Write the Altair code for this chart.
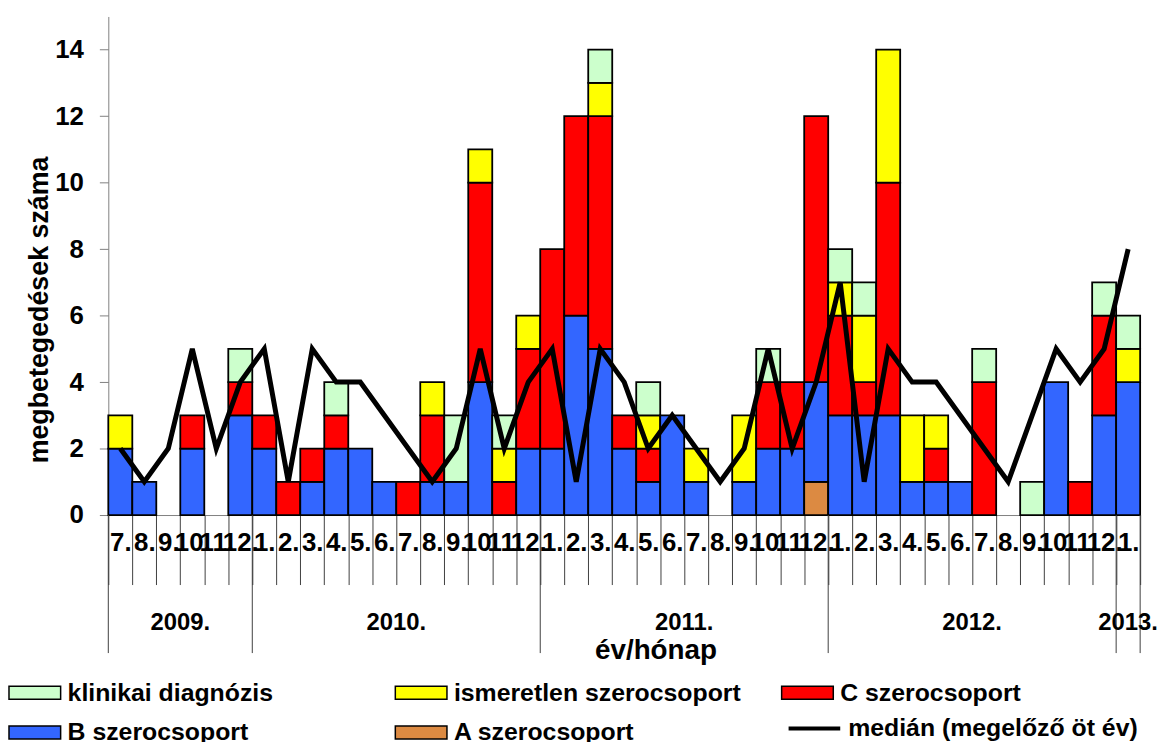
import altair as alt
import pandas as pd

FONT = "Liberation Sans"

years = [2009] * 6 + [2010] * 12 + [2011] * 12 + [2012] * 12 + [2013]
months = [7, 8, 9, 10, 11, 12] + list(range(1, 13)) * 3 + [1]
categories = [f"{y}/{m}." for y, m in zip(years, months)]

# counts per month (2009.7 ... 2013.1)
a_sz = [0, 0, 0, 0, 0, 0,
        0, 0, 0, 0, 0, 0, 0, 0, 0, 0, 0, 0,
        0, 0, 0, 0, 0, 0, 0, 0, 0, 0, 0, 1,
        0, 0, 0, 0, 0, 0, 0, 0, 0, 0, 0, 0,
        0]
b_sz = [2, 1, 0, 2, 0, 3,
        2, 0, 1, 2, 2, 1, 0, 1, 1, 4, 0, 2,
        2, 6, 5, 2, 1, 3, 1, 0, 1, 2, 2, 3,
        3, 3, 3, 1, 1, 1, 0, 0, 0, 4, 0, 3,
        4]
c_sz = [0, 0, 0, 1, 0, 1,
        1, 1, 1, 1, 0, 0, 1, 2, 0, 6, 1, 3,
        6, 6, 7, 1, 1, 0, 0, 0, 0, 2, 2, 8,
        3, 1, 7, 0, 1, 0, 4, 0, 0, 0, 1, 3,
        0]
ismeretlen = [1, 0, 0, 0, 0, 0,
              0, 0, 0, 0, 0, 0, 0, 1, 0, 1, 1, 1,
              0, 0, 1, 0, 1, 0, 1, 0, 2, 0, 0, 0,
              1, 2, 4, 2, 1, 0, 0, 0, 0, 0, 0, 0,
              1]
klinikai = [0, 0, 0, 0, 0, 1,
            0, 0, 0, 1, 0, 0, 0, 0, 2, 0, 1, 0,
            0, 0, 1, 0, 1, 0, 0, 0, 0, 1, 0, 0,
            1, 1, 0, 0, 0, 0, 1, 0, 1, 0, 0, 1,
            1]
median = [2, 1, 2, 5, 2, 4,
          5, 1, 5, 4, 4, 3, 2, 1, 2, 5, 2, 4,
          5, 1, 5, 4, 2, 3, 2, 1, 2, 5, 2, 4,
          7, 1, 5, 4, 4, 3, 2, 1, 3, 5, 4, 5,
          8]

stack_names = ["A szerocsoport", "B szerocsoport", "C szerocsoport",
               "ismeretlen szerocsoport", "klinikai diagnózis"]
stack_values = [a_sz, b_sz, c_sz, ismeretlen, klinikai]

# legend entries fill column by column: (kl, B) (ism, A) (C)
legend_order = ["klinikai diagnózis", "B szerocsoport", "ismeretlen szerocsoport",
                "A szerocsoport", "C szerocsoport"]
legend_colors = ["#CCFFCC", "#3366FF", "#FFFF00", "#DC8A42", "#FF0000"]
median_label = "medián (megelőző öt év)"

year_mid_cats = ["2009/10.", "2010/7.", "2011/7.", "2012/7."]
year_mid_labels = ["2009.", "2010.", "2011.", "2012."]
year_start_cats = ["2009/7.", "2010/1.", "2011/1.", "2012/1.", "2013/1."]

rows = []
for i, cat in enumerate(categories):
    for order, (name, vals) in enumerate(zip(stack_names, stack_values)):
        if vals[i] > 0:
            rows.append({"cat": cat, "series": name, "value": vals[i], "order": order})
bars_df = pd.DataFrame(rows)
med_df = pd.DataFrame({"cat": categories, "value": median, "label": median_label})

x_scale = alt.Scale(domain=categories, paddingInner=0, paddingOuter=0)
y_scale = alt.Scale(domain=[0, 15], nice=False)

x_axis = alt.Axis(
    title="év/hónap",
    labelExpr="isString(datum.value) && indexof(datum.value, '/') > 0 ? substring(datum.value, 5) : ''",
    labelAngle=0,
    labelFontSize=26, labelFont=FONT, labelFontWeight="bold", labelColor="black",
    labelOverlap=False, labelPadding=-55, labelLimit=0,
    tickBand="extent", tickSize=70, tickColor="#404040", tickWidth=1,
    domainColor="#808080", domainWidth=1,
    titleFont=FONT, titleFontSize=28, titleFontWeight="bold", titleColor="black",
    titleX=551, titleY=144, titleBaseline="alphabetic", titleAlign="center",
)
y_axis = alt.Axis(
    title="megbetegedések száma", values=list(range(0, 15, 2)), grid=False,
    labelFontSize=26, labelFont=FONT, labelFontWeight="bold", labelColor="black",
    labelPadding=16, tickSize=9, tickColor="#808080", domainColor="#808080",
    titleFont=FONT, titleFontSize=27, titleFontWeight="bold", titleColor="black",
    titleAngle=270, titleX=-61, titleY=295, titleBaseline="alphabetic", titleAlign="center",
)

X = alt.X("cat:N", scale=x_scale, sort=categories, axis=x_axis, title="év/hónap")

bars = alt.Chart(bars_df).mark_bar(stroke="black", strokeWidth=1.8).encode(
    x=X,
    y=alt.Y("value:Q", stack="zero", scale=y_scale, axis=y_axis, title="megbetegedések száma"),
    color=alt.Color(
        "series:N",
        scale=alt.Scale(domain=legend_order, range=legend_colors),
        legend=alt.Legend(
            orient="none", legendX=-101, legendY=654, columns=3, title=None,
            symbolType="M-1,-0.25H1V0.25H-1Z", symbolSize=2704,
            symbolStrokeColor="black", symbolStrokeWidth=1.5, symbolOpacity=1,
            labelFont=FONT, labelFontSize=25, labelFontWeight="bold", labelColor="black",
            labelOffset=6, columnPadding=38, rowPadding=0, gridAlign="all", padding=0,
            labelLimit=0,
        ),
    ),
    order=alt.Order("order:Q", sort="ascending"),
)

line = alt.Chart(med_df).mark_line(strokeWidth=5, strokeJoin="miter").encode(
    x=X,
    y=alt.Y("value:Q", scale=y_scale, axis=y_axis, title="megbetegedések száma"),
    stroke=alt.Stroke(
        "label:N",
        scale=alt.Scale(domain=[median_label], range=["black"]),
        legend=alt.Legend(
            orient="none", legendX=683, legendY=689, title=None,
            symbolType="stroke", symbolSize=2704, symbolStrokeWidth=4,
            labelFont=FONT, labelFontSize=25, labelFontWeight="bold", labelColor="black",
            labelOffset=6, padding=0, labelLimit=0,
        ),
    ),
)

rules = alt.Chart(pd.DataFrame({"cat": year_start_cats})).mark_rule(
    color="#404040", strokeWidth=1
).encode(
    x=alt.X("cat:N", scale=x_scale, sort=categories, axis=x_axis, title="év/hónap", bandPosition=0),
    y=alt.value(502), y2=alt.value(641),
)
rule_end = alt.Chart(pd.DataFrame({"cat": [categories[-1]]})).mark_rule(
    color="#404040", strokeWidth=1
).encode(
    x=alt.X("cat:N", scale=x_scale, sort=categories, axis=x_axis, title="év/hónap", bandPosition=1),
    y=alt.value(502), y2=alt.value(641),
)

year_text = alt.Chart(pd.DataFrame({"cat": year_mid_cats, "label": year_mid_labels})).mark_text(
    font=FONT, fontSize=24, fontWeight="bold", color="black", baseline="middle", align="center"
).encode(
    x=alt.X("cat:N", scale=x_scale, sort=categories, axis=x_axis, title="év/hónap", bandPosition=0),
    y=alt.value(611),
    text="label:N",
)
year_text_last = alt.Chart(pd.DataFrame({"cat": [categories[-1]], "label": ["2013."]})).mark_text(
    font=FONT, fontSize=24, fontWeight="bold", color="black", baseline="middle", align="center"
).encode(
    x=X,
    y=alt.value(611),
    text="label:N",
)

chart = alt.layer(bars, line, rules, rule_end, year_text, year_text_last).properties(
    width=1039, height=502,
    autosize=alt.AutoSizeParams(type="none"),
    padding={"left": 101, "top": 6, "right": 22, "bottom": 226},
).configure(font=FONT).configure_view(stroke=None)

chart.save("out.html", embed_options={"renderer": "svg", "actions": False})
